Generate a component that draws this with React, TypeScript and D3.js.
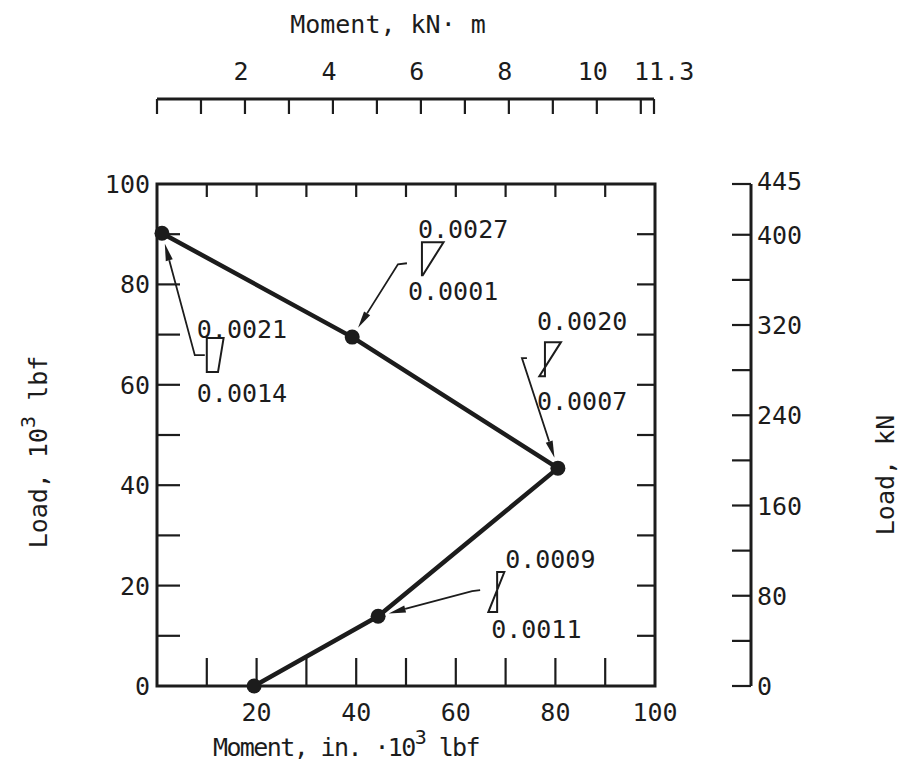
import React from "react";
import * as d3 from "d3";

// Load path of the specimen: moment (10^3 in-lbf) vs load (10^3 lbf)
const momentKipIn = [1, 39.2, 80.5, 44.4, 19.5];
const loadKips = [90.2, 69.5, 43.4, 13.9, 0];

// Tick values
const bottomTicks = [0, 10, 20, 30, 40, 50, 60, 70, 80, 90, 100];
const bottomLabels = [20, 40, 60, 80, 100];
const leftTicks = [10, 20, 30, 40, 50, 60, 70, 80, 90];
const leftLabels = [0, 20, 40, 60, 80, 100];
const topTicks = [0, 1, 2, 3, 4, 5, 6, 7, 8, 9, 10, 11, 11.3];
const topLabels = [2, 4, 6, 8, 10];
const kNTicks = [0, 40, 80, 120, 160, 200, 240, 280, 320, 360, 400, 445];
const kNLabels = [0, 80, 160, 240, 320, 400, 445];

// Strain profiles (top fibre, bottom fibre) for the annotated points
const strainTop = [0.0021, 0.0027, 0.002, 0.0009];
const strainBottom = [0.0014, 0.0001, -0.0007, -0.0011];
const strainTarget = [0, 1, 2, 3];
// profile anchor in plot units (moment, load)
const anchorMoment = [10.0, 53.2, 77.9, 68.3];
const anchorLoad = [69.3, 88.4, 68.5, 22.7];

const FONT = "'DejaVu Sans Mono', monospace";
const INK = "#1c1c1c";

export default function App() {
  const W = 903;
  const H = 774;
  const x = d3.scaleLinear().domain([0, 100]).range([157, 655]);
  const y = d3.scaleLinear().domain([0, 100]).range([686, 184]);
  const xTop = d3.scaleLinear().domain([0, 11.3]).range([157, 654]);
  const yKN = d3.scaleLinear().domain([0, 445]).range([686, 184]);
  const strainPx = d3.scaleLinear().domain([0, 0.001]).range([0, 8]);

  const topAxisY = 99;
  const rightAxisX = 751;

  const line = d3
    .line<number>()
    .x((_, i) => x(momentKipIn[i]))
    .y((_, i) => y(loadKips[i]));

  // per-annotation layout offsets relative to the profile anchor
  const layout = [
    { h: 34, top: [-10, 0], bot: [-10, 64], stub: [[-2, 17], [-12, 17]] },
    { h: 33, top: [-4, -4], bot: [-14, 58], stub: [[-15, 21], [-24, 22]] },
    { h: 34, top: [-8, -12], bot: [-8, 68], stub: [[-18, 16], [-23, 16]] },
    { h: 40, top: [8, -4], bot: [-6, 66], stub: [[-17, 18], [-25, 19]] },
  ];

  const fmt = (v: number) => Math.abs(v).toFixed(4);

  return (
    <svg
      width={W}
      height={H}
      style={{ position: "absolute", left: 0, top: 0, background: "#fff" }}
      fontFamily={FONT}
    >
      <rect width={W} height={H} fill="#fff" />

      {/* Top axis: moment, kN·m */}
      <text x={388} y={33} fontSize={25} textAnchor="middle" fill={INK}>
        Moment, kN· m
      </text>
      <line x1={xTop(0)} x2={xTop(11.3)} y1={topAxisY} y2={topAxisY} stroke={INK} strokeWidth={3} />
      {topTicks.map((t) => (
        <line key={"tt" + t} x1={xTop(t)} x2={xTop(t)} y1={topAxisY} y2={topAxisY + 15} stroke={INK} strokeWidth={2.2} />
      ))}
      {topLabels.map((t) => (
        <text key={"tl" + t} x={xTop(t) - 4} y={80} fontSize={25} textAnchor="middle" fill={INK}>
          {t}
        </text>
      ))}
      <text x={xTop(11.3) - 20} y={80} fontSize={25} textAnchor="start" fill={INK}>
        11.3
      </text>

      {/* Main frame */}
      <rect x={x(0)} y={y(100)} width={x(100) - x(0)} height={y(0) - y(100)} fill="none" stroke={INK} strokeWidth={3} />
      {bottomTicks.slice(1, -1).map((t) => (
        <g key={"bt" + t}>
          <line x1={x(t)} x2={x(t)} y1={y(0)} y2={y(0) - 28} stroke={INK} strokeWidth={2.2} />
          <line x1={x(t)} x2={x(t)} y1={y(100)} y2={y(100) + 13} stroke={INK} strokeWidth={2.2} />
        </g>
      ))}
      {leftTicks.map((t) => (
        <g key={"lt" + t}>
          <line x1={x(0)} x2={x(0) + 23} y1={y(t)} y2={y(t)} stroke={INK} strokeWidth={2.2} />
          <line x1={x(100)} x2={x(100) - 18} y1={y(t)} y2={y(t)} stroke={INK} strokeWidth={2.2} />
        </g>
      ))}
      {leftLabels.map((t) => (
        <text key={"ll" + t} x={150} y={y(t) + 9} fontSize={25} textAnchor="end" fill={INK}>
          {t}
        </text>
      ))}
      {bottomLabels.map((t) => (
        <text key={"bl" + t} x={x(t)} y={721} fontSize={25} textAnchor="middle" fill={INK}>
          {t}
        </text>
      ))}
      <text x={346} y={756} fontSize={25} textAnchor="middle" fill={INK} letterSpacing={-1.6}>
        Moment, in. ·10
        <tspan dy={-12} fontSize={20}>3</tspan>
        <tspan dy={12}> lbf</tspan>
      </text>
      <text transform={`translate(47,452) rotate(-90)`} fontSize={25} textAnchor="middle" fill={INK}>
        Load, 10
        <tspan dy={-12} fontSize={20}>3</tspan>
        <tspan dy={12}> lbf</tspan>
      </text>

      {/* Right axis: load, kN */}
      <line x1={rightAxisX} x2={rightAxisX} y1={yKN(0)} y2={yKN(445)} stroke={INK} strokeWidth={3} />
      {kNTicks.map((t) => (
        <line key={"kt" + t} x1={rightAxisX - 19} x2={rightAxisX} y1={yKN(t)} y2={yKN(t)} stroke={INK} strokeWidth={2.2} />
      ))}
      {kNLabels.map((t) => (
        <text key={"kl" + t} x={rightAxisX + 6} y={yKN(t) + (t === 445 ? 6 : 9)} fontSize={25} textAnchor="start" fill={INK}>
          {t}
        </text>
      ))}
      <text transform={`translate(894,475) rotate(-90)`} fontSize={25} textAnchor="middle" fill={INK}>
        Load, kN
      </text>

      {/* Load path */}
      <path d={line(momentKipIn) ?? ""} fill="none" stroke={INK} strokeWidth={4.5} strokeLinejoin="round" />
      {momentKipIn.map((m, i) => (
        <circle key={"pt" + i} cx={x(m)} cy={y(loadKips[i])} r={7.5} fill={INK} />
      ))}

      {/* Strain profiles with leaders */}
      {strainTop.map((st, i) => {
        const L = layout[i];
        const ax = x(anchorMoment[i]);
        const ay = y(anchorLoad[i]);
        const sb = strainBottom[i];
        const prof = `M${ax},${ay}H${ax + strainPx(st)}L${ax + strainPx(sb)},${ay + L.h}H${ax}Z`;
        const s0 = [ax + L.stub[0][0], ay + L.stub[0][1]];
        const s1 = [ax + L.stub[1][0], ay + L.stub[1][1]];
        const k = strainTarget[i];
        const px = x(momentKipIn[k]);
        const py = y(loadKips[k]);
        const dx = px - s1[0];
        const dy = py - s1[1];
        const len = Math.hypot(dx, dy);
        const ux = dx / len;
        const uy = dy / len;
        const tip = [px - ux * 11, py - uy * 11];
        const base = [tip[0] - ux * 17, tip[1] - uy * 17];
        const nx = -uy * 3.6;
        const ny = ux * 3.6;
        return (
          <g key={"ann" + i}>
            <path d={prof} fill="none" stroke={INK} strokeWidth={2} strokeLinejoin="miter" />
            <path
              d={`M${s0[0]},${s0[1]}L${s1[0]},${s1[1]}L${base[0]},${base[1]}`}
              fill="none"
              stroke={INK}
              strokeWidth={1.8}
            />
            <path
              d={`M${tip[0]},${tip[1]}L${base[0] + nx},${base[1] + ny}L${base[0] - nx},${base[1] - ny}Z`}
              fill={INK}
            />
            <text x={ax + L.top[0]} y={ay + L.top[1]} fontSize={25} fill={INK}>
              {fmt(st)}
            </text>
            <text x={ax + L.bot[0]} y={ay + L.bot[1]} fontSize={25} fill={INK}>
              {fmt(sb)}
            </text>
          </g>
        );
      })}
    </svg>
  );
}
